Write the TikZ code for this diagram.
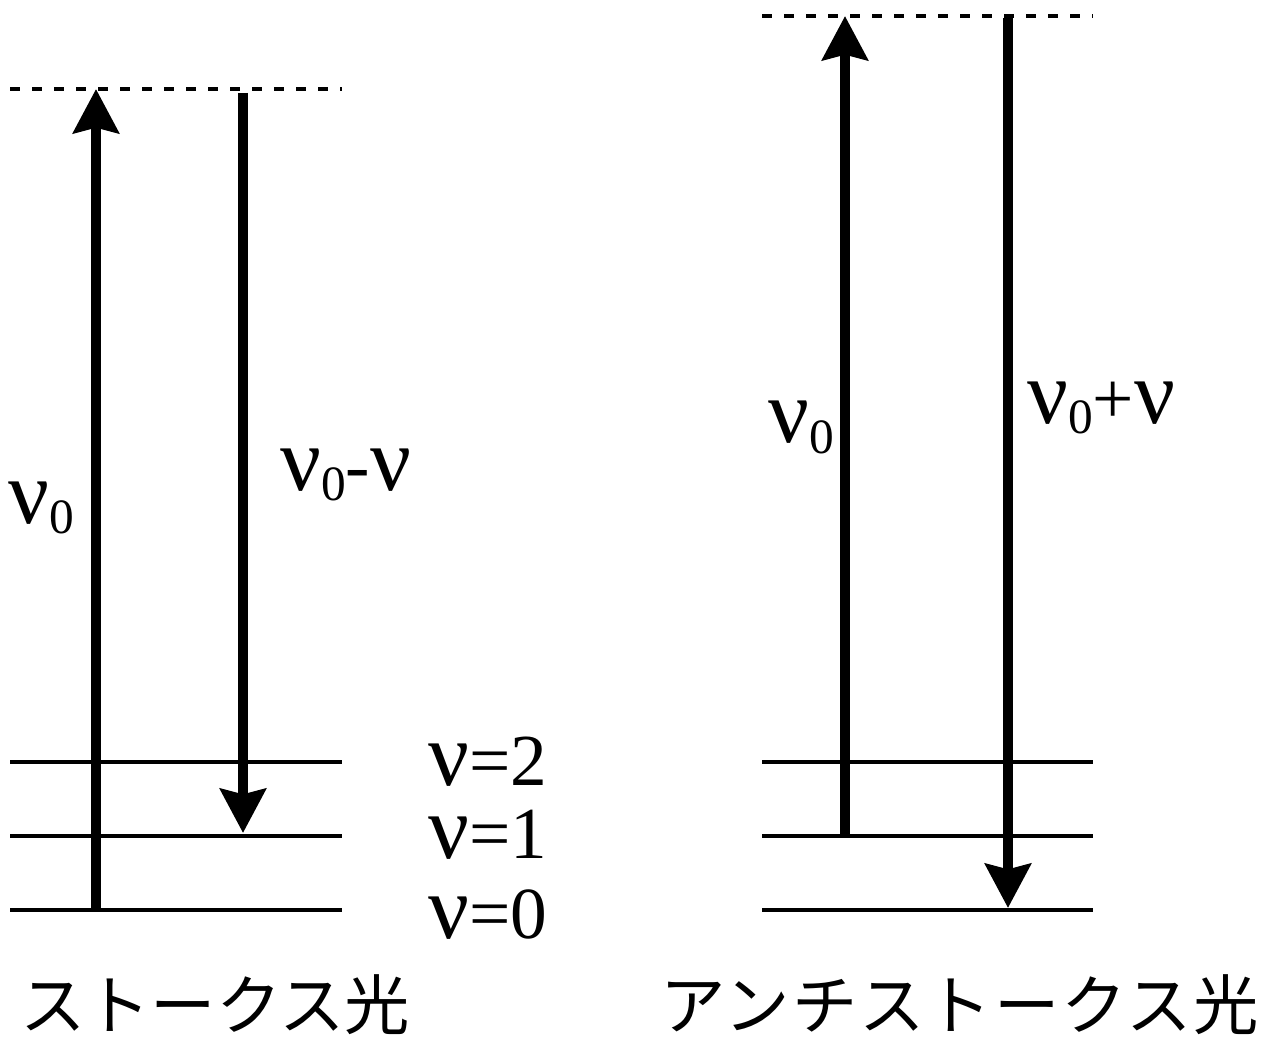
\documentclass[tikz,border=0pt]{standalone}
\usepackage{fontspec}
\setmainfont{Liberation Serif}
\newfontfamily\cjk{Noto Sans CJK JP}
\newfontfamily\cjkw[LetterSpace=3]{Noto Sans CJK JP}
\usetikzlibrary{arrows.meta}
\newcommand{\mynu}{{\fontsize{68}{68}\selectfont ν}}
\newcommand{\mysub}{\raisebox{-8pt}{\fontsize{37}{37}\selectfont 0}}
\newcommand{\mytxt}{\fontsize{55}{55}\selectfont}
\begin{document}
\begin{tikzpicture}[x=0.75pt,y=-0.75pt,
  level/.style={line width=3pt},
  virt/.style={line width=3pt, dash pattern=on 7.5pt off 9pt},
  trans/.style={line width=7.5pt, -{Stealth[length=33pt,width=34pt,inset=4pt]}},
  lab/.style={inner sep=0pt, anchor=base west, font=\mytxt},
  jp/.style={inner sep=0pt, anchor=west, font=\cjk\fontsize{49}{49}\selectfont},
  jpw/.style={inner sep=0pt, anchor=west, font=\cjkw\fontsize{49}{49}\selectfont}]
\useasboundingbox (0,0) rectangle (1279,1041);
% left diagram
\coordinate (LV0) at (10,89);  \coordinate (LV1) at (342,89);
\coordinate (L2a) at (10,762); \coordinate (L2b) at (342,762);
\coordinate (L1a) at (10,836); \coordinate (L1b) at (342,836);
\coordinate (L0a) at (10,910); \coordinate (L0b) at (342,910);
\coordinate (LupS) at (96,910); \coordinate (LupE) at (96,89);
\coordinate (LdnS) at (243,93); \coordinate (LdnE) at (243,833);
\draw[virt] (LV0) -- (LV1);
\draw[level] (L2a) -- (L2b);
\draw[level] (L1a) -- (L1b);
\draw[level] (L0a) -- (L0b);
\draw[trans] (LupS) -- (LupE);
\draw[trans] (LdnS) -- (LdnE);
% right diagram
\coordinate (RV0) at (762,16);  \coordinate (RV1) at (1093,16);
\coordinate (R2a) at (762,762); \coordinate (R2b) at (1093,762);
\coordinate (R1a) at (762,836); \coordinate (R1b) at (1093,836);
\coordinate (R0a) at (762,910); \coordinate (R0b) at (1093,910);
\coordinate (RupS) at (845,836); \coordinate (RupE) at (845,16);
\coordinate (RdnS) at (1008,18); \coordinate (RdnE) at (1008,908);
\draw[virt] (RV0) -- (RV1);
\draw[level] (R2a) -- (R2b);
\draw[level] (R1a) -- (R1b);
\draw[level] (R0a) -- (R0b);
\draw[trans] (RupS) -- (RupE);
\draw[trans] (RdnS) -- (RdnE);
% labels
\node[lab] (lnu0) at (8,523) {\mynu\mysub};
\node[lab] (lnus) at (280,490) {\mynu\mysub-\mynu};
\node[lab] (rnu0) at (768,443) {\mynu\mysub};
\node[lab] (rnua) at (1027,423) {\mynu\mysub+\mynu};
\node[lab] (v2) at (428,785) {\smash{\mynu=2}};
\node[lab] (v1) at (428,858) {\smash{\mynu=1}};
\node[lab] (v0) at (428,938) {\smash{\mynu=0}};
\node[jp] (stokes) at (20,1005) {ストークス光};
\node[jpw] (astokes) at (660,1005) {アンチストークス光};
\end{tikzpicture}
\end{document}
